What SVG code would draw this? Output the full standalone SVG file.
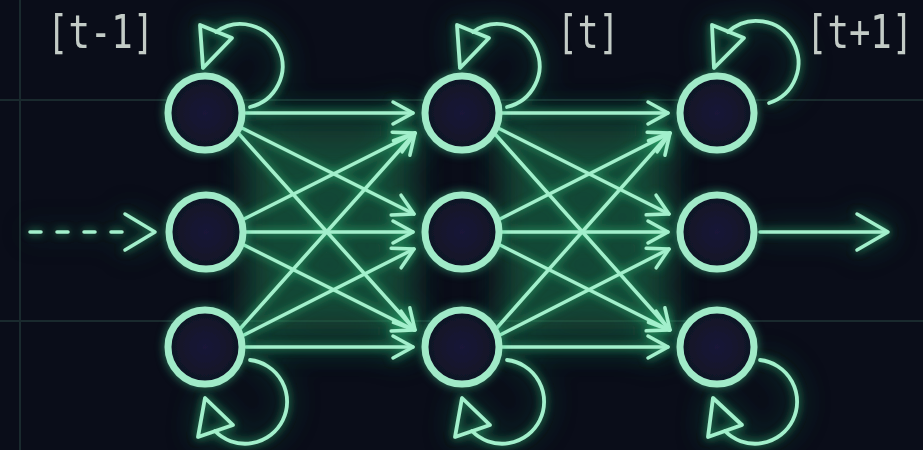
<svg xmlns="http://www.w3.org/2000/svg" width="923" height="450" viewBox="0 0 923 450">
<defs>
<style>
.ln{stroke:#a2f0cc;stroke-width:3.5;fill:none;stroke-linecap:round;stroke-linejoin:round}
.ar{marker-end:url(#chev)}
.node{stroke:#a0eac8;stroke-width:7;fill:url(#inner)}
.loop{stroke:#a2f0cc;stroke-width:3.8;fill:none;stroke-linejoin:round;stroke-linecap:round}
.lbl{font-family:"DejaVu Sans Mono","Liberation Mono",monospace;font-size:46px;fill:#c3cbc6}
.grid{stroke:#1a2a2e;stroke-width:2}
.haze{fill:#1c6a48;opacity:0.55}
</style>
<marker id="chev" markerUnits="userSpaceOnUse" markerWidth="40" markerHeight="40" viewBox="-30 -20 40 40" refX="0" refY="0" orient="auto" overflow="visible">
<path d="M-20,-11 L0,0 L-20,11" fill="none" stroke="#a2f0cc" stroke-width="3.5" stroke-linecap="round" stroke-linejoin="round"/>
</marker>
<filter id="glow" x="-20%" y="-20%" width="140%" height="140%">
<feGaussianBlur in="SourceAlpha" stdDeviation="14" result="b2"/>
<feFlood flood-color="#1f8a58" flood-opacity="0.9"/>
<feComposite in2="b2" operator="in" result="haze"/>
<feGaussianBlur in="SourceAlpha" stdDeviation="4" result="b1"/>
<feFlood flood-color="#34d887" flood-opacity="0.7"/>
<feComposite in2="b1" operator="in" result="g1"/>
<feMerge><feMergeNode in="haze"/><feMergeNode in="g1"/><feMergeNode in="SourceGraphic"/></feMerge>
</filter>
<filter id="nglow" x="-50%" y="-50%" width="200%" height="200%">
<feGaussianBlur in="SourceAlpha" stdDeviation="5" result="b"/>
<feFlood flood-color="#3bd08e" flood-opacity="0.6"/>
<feComposite in2="b" operator="in" result="g"/>
<feMerge><feMergeNode in="g"/><feMergeNode in="SourceGraphic"/></feMerge>
</filter>
<filter id="soft" x="-30%" y="-30%" width="160%" height="160%">
<feGaussianBlur stdDeviation="16"/>
</filter>
<radialGradient id="inner">
<stop offset="0" stop-color="#1a1838"/>
<stop offset="1" stop-color="#0f1424"/>
</radialGradient>
</defs>
<rect width="923" height="450" fill="#0a0d19"/>
<g id="grid">
<line class="grid" x1="20" y1="0" x2="20" y2="450"/>
<line class="grid" x1="0" y1="100" x2="923" y2="100"/>
<line class="grid" x1="0" y1="321" x2="923" y2="321"/>
</g>
<g id="haze" filter="url(#soft)">
<rect class="haze" x="245" y="120" width="170" height="220"/>
<rect class="haze" x="500" y="120" width="170" height="220"/>
</g>
<g id="connectors" filter="url(#glow)">
<line class="ln" x1="30" y1="232" x2="127" y2="232" stroke-width="5" stroke-dasharray="11 16"/>
<path class="ln" d="M125,214 L155,232 L125,250"/>
<line class="ln ar" x1="246" y1="113" x2="413" y2="113"/>
<line class="ln ar" x1="242" y1="128" x2="414" y2="214"/>
<line class="ln ar" x1="239" y1="134" x2="415" y2="330"/>
<line class="ln ar" x1="242" y1="220" x2="415" y2="133"/>
<line class="ln ar" x1="246" y1="232" x2="413" y2="232"/>
<line class="ln ar" x1="242" y1="244" x2="414" y2="330"/>
<line class="ln ar" x1="239" y1="330" x2="415" y2="133"/>
<line class="ln ar" x1="242" y1="336" x2="414" y2="249"/>
<line class="ln ar" x1="246" y1="347" x2="413" y2="347"/>
<line class="ln ar" x1="502" y1="113" x2="668" y2="113"/>
<line class="ln ar" x1="498" y1="128" x2="669" y2="214"/>
<line class="ln ar" x1="495" y1="134" x2="670" y2="330"/>
<line class="ln ar" x1="498" y1="220" x2="670" y2="133"/>
<line class="ln ar" x1="502" y1="232" x2="668" y2="232"/>
<line class="ln ar" x1="498" y1="244" x2="669" y2="330"/>
<line class="ln ar" x1="495" y1="330" x2="670" y2="133"/>
<line class="ln ar" x1="498" y1="336" x2="669" y2="249"/>
<line class="ln ar" x1="502" y1="347" x2="668" y2="347"/>
<line class="ln" x1="760" y1="232" x2="886" y2="232"/>
<path class="ln" d="M857,214 L888,232 L857,250"/>
<path class="loop" d="M250,107 A42,42 0 1 0 216,32"/>
<polygon class="loop" points="200,25 232,38 203,68"/>
<path class="loop" d="M507,107 A42,42 0 1 0 473,32"/>
<polygon class="loop" points="457,25 489,38 460,68"/>
<path class="loop" d="M769,103 A42,42 0 1 0 728,32"/>
<polygon class="loop" points="712,25 744,38 714,68"/>
<path class="loop" d="M250,360 A42,42 0 1 1 215,431"/>
<polygon class="loop" points="205,398 198,437 233,425"/>
<path class="loop" d="M507,360 A42,42 0 1 1 472,431"/>
<polygon class="loop" points="462,398 455,437 490,425"/>
<path class="loop" d="M760,360 A42,42 0 1 1 725,431"/>
<polygon class="loop" points="713,398 708,437 742,425"/>
</g>
<g id="n1a" filter="url(#nglow)"><circle class="node" cx="205" cy="113" r="37"/></g>
<g id="n1b" filter="url(#nglow)"><circle class="node" cx="206" cy="232" r="37"/></g>
<g id="n1c" filter="url(#nglow)"><circle class="node" cx="205" cy="347" r="37"/></g>
<g id="n2a" filter="url(#nglow)"><circle class="node" cx="462" cy="113" r="37"/></g>
<g id="n2b" filter="url(#nglow)"><circle class="node" cx="462" cy="232" r="37"/></g>
<g id="n2c" filter="url(#nglow)"><circle class="node" cx="462" cy="347" r="37"/></g>
<g id="n3a" filter="url(#nglow)"><circle class="node" cx="717" cy="113" r="37"/></g>
<g id="n3b" filter="url(#nglow)"><circle class="node" cx="717" cy="232" r="37"/></g>
<g id="n3c" filter="url(#nglow)"><circle class="node" cx="717" cy="347" r="37"/></g>
<g id="labels">
<text class="lbl" transform="translate(47,48) scale(0.775,1)">[t-1]</text>
<text class="lbl" transform="translate(557,48) scale(0.75,1)">[t]</text>
<text class="lbl" transform="translate(806,48) scale(0.775,1)">[t+1]</text>
</g>
</svg>
